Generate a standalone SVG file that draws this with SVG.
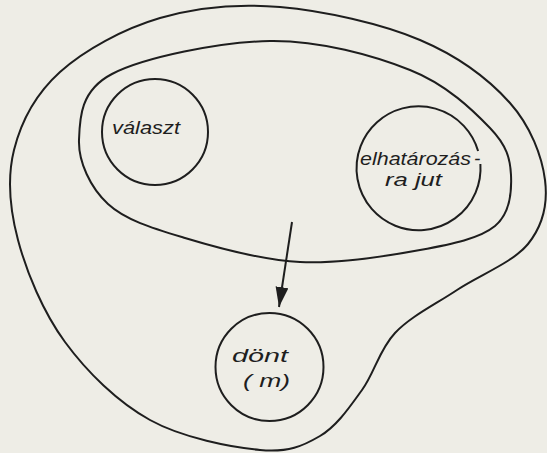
<svg xmlns="http://www.w3.org/2000/svg" width="547" height="453" viewBox="0 0 547 453">
<defs>
<style>
.ln{fill:none;stroke:#1e1e1e;stroke-width:2}
.tx{font-family:"Liberation Sans","DejaVu Sans",sans-serif;font-style:italic;font-size:19px;fill:#1e1e1e}
</style>
<marker id="ah" markerUnits="userSpaceOnUse" markerWidth="22" markerHeight="14" refX="20" refY="6.5" orient="auto">
<path d="M0,0 L20,6.5 L0,13 z" fill="#1e1e1e"/>
</marker>
</defs>
<rect width="547" height="453" fill="#eeede6"/>
<g id="outer">
<path class="ln" d="M280,7 C323.3,10.7 381.7,23.7 420,40 C458.3,56.3 489.2,79.7 510,103 C530.8,126.3 542,156.5 545,180 C548,203.5 542.7,225.7 528,244 C513.3,262.3 479.2,275.2 457,290 C434.8,304.8 410.8,316.3 395,333 C379.2,349.7 374.5,372.8 362,390 C349.5,407.2 337,426 320,436 C303,446 288.3,452.7 260,450 C231.7,447.3 182.5,438 150,420 C117.5,402 87,372 65,342 C43,312 26.5,272 18,240 C9.5,208 7,178 14,150 C21,122 35.7,94 60,72 C84.3,50 123.3,28.8 160,18 C196.7,7.2 236.7,3.3 280,7 Z"/>
</g>
<g id="inner">
<path class="ln" d="M270,41 C319.7,40.3 373.3,55.5 410,70 C446.7,84.5 473.2,110.5 490,128 C506.8,145.5 510.2,158.7 511,175 C511.8,191.3 510.2,213.5 495,226 C479.8,238.5 452.5,244 420,250 C387.5,256 339.2,264 300,262 C260.8,260 217,247.7 185,238 C153,228.3 125.7,220.3 108,204 C90.3,187.7 78.3,161.7 79,140 C79.7,118.3 80.2,90.5 112,74 C143.8,57.5 220.3,41.7 270,41 Z"/>
</g>
<g id="valaszt">
<circle class="ln" cx="155" cy="132" r="53"/>
<text class="tx" x="112" y="134" textLength="68" lengthAdjust="spacingAndGlyphs">választ</text>
</g>
<g id="elhatarozas">
<path class="ln" d="M480.4,164 A62,62 0 1 1 478.1,151"/>
<text class="tx"><tspan x="360" y="165" textLength="111" lengthAdjust="spacingAndGlyphs">elhatározás</tspan><tspan x="474" y="165">-</tspan><tspan x="385" y="186" textLength="57" lengthAdjust="spacingAndGlyphs">ra jut</tspan></text>
</g>
<g id="dont">
<circle class="ln" cx="269.5" cy="367" r="54"/>
<text class="tx"><tspan x="232" y="362" textLength="56" lengthAdjust="spacingAndGlyphs">dönt</tspan><tspan x="243" y="387" textLength="47" lengthAdjust="spacingAndGlyphs">( m)</tspan></text>
</g>
<g id="connectors">
<line class="ln" x1="292" y1="222" x2="279" y2="307" marker-end="url(#ah)"/>
</g>
</svg>
